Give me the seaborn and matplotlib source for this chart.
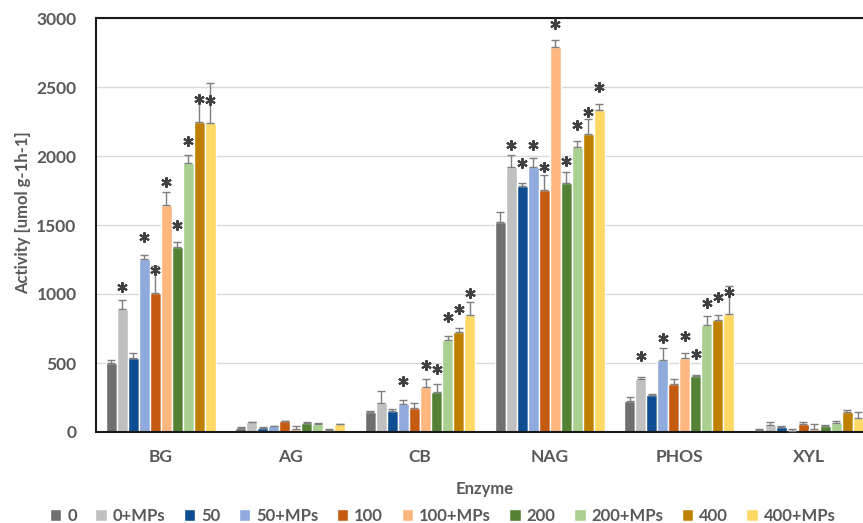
import matplotlib
matplotlib.use("Agg")
import matplotlib.pyplot as plt
import numpy as np
import pandas as pd
import seaborn as sns

# enzyme activities per treatment
enzymes = ["BG", "AG", "CB", "NAG", "PHOS", "XYL"]
treatments = ["0", "0+MPs", "50", "50+MPs", "100", "100+MPs",
              "200", "200+MPs", "400", "400+MPs"]
colors = ["#6f6f6f", "#c0c0c0", "#0f4d92", "#8faadc", "#c55a11",
          "#ffb780", "#548235", "#a9d08e", "#bf8000", "#ffd966"]

bg_mean = [502, 889, 538, 1251, 1010, 1647, 1340, 1949, 2248, 2241]
bg_err = [20, 70, 37, 30, 190, 94, 34, 56, 180, 286]
ag_mean = [32, 70, 32, 43, 77, 25, 65, 58, 17, 55]
ag_err = [4, 5, 4, 4, 5, 18, 4, 5, 3, 5]
cb_mean = [147, 212, 152, 203, 174, 324, 292, 669, 725, 845]
cb_err = [5, 87, 12, 29, 34, 60, 53, 27, 31, 97]
nag_mean = [1519, 1918, 1785, 1920, 1756, 2790, 1804, 2065, 2157, 2335]
nag_err = [73, 87, 21, 68, 106, 48, 80, 46, 109, 42]
phos_mean = [225, 386, 266, 519, 345, 536, 403, 773, 814, 853]
phos_err = [29, 15, 8, 92, 37, 39, 12, 65, 36, 207]
xyl_mean = [17, 48, 38, 5, 58, 20, 45, 62, 145, 99]
xyl_err = [4, 24, 4, 20, 12, 35, 4, 15, 12, 49]

# significance markers (*)
bg_sig = [0, 1, 0, 1, 1, 1, 1, 1, 1, 1]
ag_sig = [0, 0, 0, 0, 0, 0, 0, 0, 0, 0]
cb_sig = [0, 0, 0, 1, 0, 1, 1, 1, 1, 1]
nag_sig = [0, 1, 1, 1, 1, 1, 1, 1, 1, 1]
phos_sig = [0, 1, 0, 1, 0, 1, 1, 1, 1, 1]
xyl_sig = [0, 0, 0, 0, 0, 0, 0, 0, 0, 0]

means = np.array([bg_mean, ag_mean, cb_mean, nag_mean, phos_mean, xyl_mean])
errs = np.array([bg_err, ag_err, cb_err, nag_err, phos_err, xyl_err])
sigs = np.array([bg_sig, ag_sig, cb_sig, nag_sig, phos_sig, xyl_sig])

rows = []
for i, enz in enumerate(enzymes):
    for j, tr in enumerate(treatments):
        rows.append({"Enzyme": enz, "Treatment": tr, "Activity": means[i, j]})
df = pd.DataFrame(rows)

sns.set_theme(style="white")
plt.rcParams["font.family"] = ["Lato", "DejaVu Sans"]
plt.rcParams["font.weight"] = "bold"
plt.rcParams["axes.labelweight"] = "bold"

grey = "#595959"
fig = plt.figure(figsize=(8.63, 5.23), dpi=100)
ax = fig.add_axes([96 / 863, 1 - 432 / 523, 777.6 / 863, 414 / 523])

sns.barplot(data=df, x="Enzyme", y="Activity", hue="Treatment",
            order=enzymes, hue_order=treatments, palette=colors,
            saturation=1, width=0.85, errorbar=None,
            edgecolor="white", linewidth=1, ax=ax)

# error bars (upper only) and stars on top of each bar
bar_sets = list(ax.containers)
for j, cont in enumerate(bar_sets):
    xs = np.array([p.get_x() + p.get_width() / 2 for p in cont.patches])
    hs = np.array([p.get_height() for p in cont.patches])
    ax.errorbar(xs, hs, yerr=[np.zeros_like(hs), errs[:, j]], fmt="none",
                ecolor="#7f7f7f", elinewidth=1, capsize=3, capthick=1, zorder=3)
    mask = sigs[:, j] == 1
    ax.plot(xs[mask], hs[mask] + 163, ls="none", marker=(6, 2, 0),
            ms=7.5, mew=1.5, color="#404040", zorder=4)

ax.set_xlim(-0.5, len(enzymes) - 0.5)
ax.set_ylim(0, 3000)
ax.set_yticks(np.arange(0, 3001, 500))
ax.yaxis.grid(True, color="#d9d9d9", lw=1)
ax.set_axisbelow(True)
for s in ax.spines.values():
    s.set_color("#1a1a1a")
    s.set_linewidth(1.5)

ax.tick_params(axis="y", length=0, labelsize=12.5, labelcolor=grey, pad=14)
ax.tick_params(axis="x", length=0, labelsize=12.5, labelcolor=grey, pad=12)

ax.set_ylabel("Activity [umol g-1h-1]", fontsize=12, color=grey)
ax.set_xlabel("Enzyme", fontsize=12, color=grey)
ax.yaxis.set_label_coords(-0.0836, 0.531)
ax.xaxis.set_label_coords(0.5, -0.118)

handles, labels = ax.get_legend_handles_labels()
ax.get_legend().remove()
fig.legend(handles, labels, loc="center", bbox_to_anchor=(0.513, 0.0134),
           ncol=10, frameon=False, fontsize=12, labelcolor=grey,
           handlelength=0.7, handleheight=0.7, handletextpad=0.35,
           columnspacing=1.1, borderaxespad=0)

fig.savefig("out.png", dpi=100)
